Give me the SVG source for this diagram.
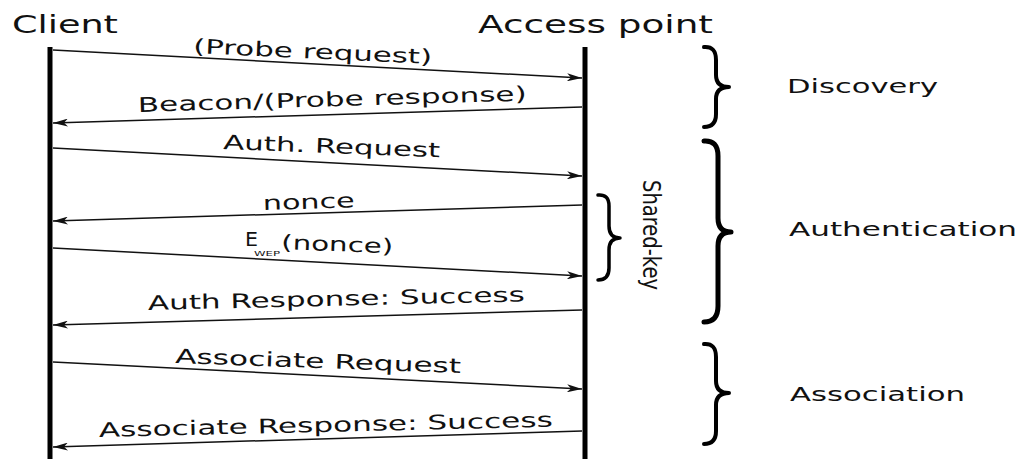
<svg xmlns="http://www.w3.org/2000/svg" width="1019" height="459" viewBox="0 0 1019 459">
<style>
text{font-family:"DejaVu Sans","Liberation Sans",sans-serif;fill:#111}
.hdr{font-size:25px}
.lbl{font-size:20px}
.life{stroke:#000;stroke-width:5}
.msg{stroke:#111;stroke-width:1.5;fill:none;marker-end:url(#ah)}
.brace{stroke:#000;stroke-width:4;fill:none;stroke-linecap:round;stroke-linejoin:round}
</style>
<defs>
<marker id="ah" markerUnits="userSpaceOnUse" markerWidth="16" markerHeight="8" refX="15" refY="4" orient="auto">
<path d="M0,0 L15,4 L0,8 L4,4 Z" fill="#111"/>
</marker>
</defs>
<rect width="1019" height="459" fill="#fff"/>
<g id="client">
<text class="hdr" x="12" y="33" textLength="106" lengthAdjust="spacingAndGlyphs">Client</text>
<line class="life" x1="50" y1="47" x2="50" y2="459"/>
</g>
<g id="access-point">
<text class="hdr" x="478" y="33" textLength="235" lengthAdjust="spacingAndGlyphs">Access point</text>
<line class="life" x1="585" y1="47" x2="585" y2="459"/>
</g>
<g id="connectors">
<line class="msg" x1="53" y1="50" x2="582" y2="78"/>
<line class="msg" x1="582" y1="107" x2="53" y2="123"/>
<line class="msg" x1="53" y1="148" x2="582" y2="176"/>
<line class="msg" x1="582" y1="205" x2="53" y2="221"/>
<line class="msg" x1="53" y1="248" x2="582" y2="276"/>
<line class="msg" x1="582" y1="310" x2="53" y2="325"/>
<line class="msg" x1="53" y1="362" x2="582" y2="389"/>
<line class="msg" x1="582" y1="431" x2="53" y2="447"/>
</g>
<g id="labels">
<text class="lbl" x="193" y="53" transform="rotate(2.6 193 53)" textLength="239" lengthAdjust="spacingAndGlyphs">(Probe request)</text>
<text class="lbl" x="138" y="112" transform="rotate(-1.7 138 112)" textLength="389" lengthAdjust="spacingAndGlyphs">Beacon/(Probe response)</text>
<text class="lbl" x="223" y="149" transform="rotate(2.2 223 149)" textLength="217" lengthAdjust="spacingAndGlyphs">Auth. Request</text>
<text class="lbl" x="263" y="210" transform="rotate(-1.7 263 210)" textLength="92" lengthAdjust="spacingAndGlyphs">nonce</text>
<text class="lbl" x="245" y="246" textLength="13" lengthAdjust="spacingAndGlyphs">E</text>
<text x="254" y="256" style="font-size:7px" textLength="26" lengthAdjust="spacingAndGlyphs">WEP</text>
<text class="lbl" x="281" y="249" transform="rotate(2.2 281 249)" textLength="112" lengthAdjust="spacingAndGlyphs">(nonce)</text>
<text class="lbl" x="148" y="310" transform="rotate(-1.3 148 310)" textLength="377" lengthAdjust="spacingAndGlyphs">Auth Response: Success</text>
<text class="lbl" x="175" y="363" transform="rotate(2 175 363)" textLength="286" lengthAdjust="spacingAndGlyphs">Associate Request</text>
<text class="lbl" x="99" y="437" transform="rotate(-1.3 99 437)" textLength="454" lengthAdjust="spacingAndGlyphs">Associate Response: Success</text>
</g>
<g id="shared-key">
<path class="brace" d="M598,195 Q609,194 609,206 L609,226 Q609,238 620,238 Q609,238 609,250 L609,268 Q609,280 598,280" style="stroke-width:3.5"/>
<text class="lbl" transform="translate(643,180) scale(1.2,1) rotate(90)" x="0" y="0" textLength="110" lengthAdjust="spacingAndGlyphs">Shared-key</text>
</g>
<g id="discovery">
<path class="brace" d="M704,47 Q716,46 716,60 L716,75 Q716,87 729,87 Q716,87 716,99 L716,114 Q716,127 704,127"/>
<text class="lbl" x="787" y="93" textLength="151" lengthAdjust="spacingAndGlyphs">Discovery</text>
</g>
<g id="authentication">
<path class="brace" d="M704,141 Q718,140 718,156 L718,218 Q718,232 731,232 Q718,232 718,246 L718,306 Q718,322 704,322" style="stroke-width:5"/>
<text class="lbl" x="789" y="236" textLength="228" lengthAdjust="spacingAndGlyphs">Authentication</text>
</g>
<g id="association">
<path class="brace" d="M704,344 Q716,343 716,357 L716,381 Q716,393 729,393 Q716,393 716,405 L716,431 Q716,444 704,444"/>
<text class="lbl" x="790" y="401" textLength="175" lengthAdjust="spacingAndGlyphs">Association</text>
</g>
</svg>
